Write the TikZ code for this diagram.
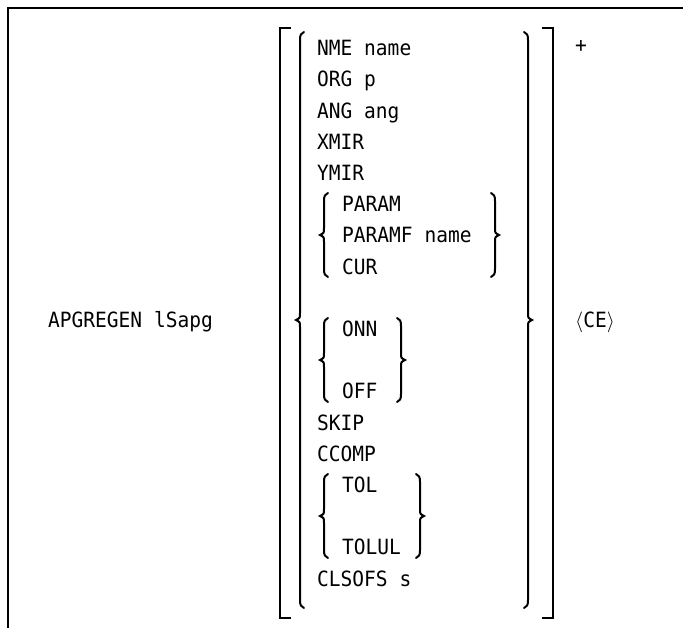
\documentclass[tikz,border=0pt]{standalone}
\usepackage{fontspec}
\newfontfamily\gothic{DejaVu Sans Mono}[FakeStretch=0.93]
\newcommand\LBr[4]{\draw[br] (#1+4,#2) .. controls (#1+1,#2+1) and (#1,#2+3) .. (#1,#2+8) -- (#1,#3-7) .. controls (#1,#3-2) .. (#1-4,#3) .. controls (#1,#3+2) .. (#1,#3+7) -- (#1,#4-8) .. controls (#1,#4-3) and (#1+1,#4-1) .. (#1+4,#4);}
\newcommand\RBr[4]{\draw[br] (#1-4,#2) .. controls (#1-1,#2+1) and (#1,#2+3) .. (#1,#2+8) -- (#1,#3-7) .. controls (#1,#3-2) .. (#1+4,#3) .. controls (#1,#3+2) .. (#1,#3+7) -- (#1,#4-8) .. controls (#1,#4-3) and (#1-1,#4-1) .. (#1-4,#4);}
\begin{document}
\begin{tikzpicture}[x=1pt,y=-1pt,
  txt/.style={anchor=base west, inner sep=0pt, font=\gothic\fontsize{21}{24}\selectfont},
  ln/.style={line width=2pt},
  br/.style={line width=2pt, line cap=round}]
\useasboundingbox (0,0) rectangle (683,628);
% frame
\draw[ln] (683,8) -- (8,8) -- (8,628);
% square brackets
\draw[ln] (291,28) -- (280,28) -- (280,618) -- (291,618);
\draw[ln] (542,28) -- (553,28) -- (553,618) -- (542,618);
% outer braces
\LBr{300}{32}{320}{608}
\RBr{528}{32}{320}{608}
% inner braces
\LBr{324}{193}{235}{277}
\RBr{495}{193}{235}{277}
\LBr{324}{318}{360}{402}
\RBr{401}{318}{360}{402}
\LBr{324}{474}{516}{558}
\RBr{420}{474}{516}{558}
% texts
\node[txt] (cmd) at (48,327.7) {APGREGEN lSapg};
\node[txt] (nme) at (317,55.7) {NME name};
\node[txt] (org) at (317,86.9) {ORG p};
\node[txt] (ang) at (317,118.1) {ANG ang};
\node[txt] (xmir) at (317,149.3) {XMIR};
\node[txt] (ymir) at (317,180.5) {YMIR};
\node[txt] (param) at (342,211.7) {PARAM};
\node[txt] (paramf) at (342,242.9) {PARAMF name};
\node[txt] (cur) at (342,274.1) {CUR};
\node[txt] (onn) at (342,336.5) {ONN};
\node[txt] (off) at (342,398.9) {OFF};
\node[txt] (skip) at (317,430.1) {SKIP};
\node[txt] (ccomp) at (317,461.3) {CCOMP};
\node[txt] (tol) at (342,492.5) {TOL};
\node[txt] (tolul) at (342,554.9) {TOLUL};
\node[txt] (clsofs) at (317,586.1) {CLSOFS s};
\node[txt] (plus) at (575,52.7) {+};
\node[txt] (ce) at (575,327.7) {$\langle$CE$\rangle$};
\end{tikzpicture}
\end{document}
